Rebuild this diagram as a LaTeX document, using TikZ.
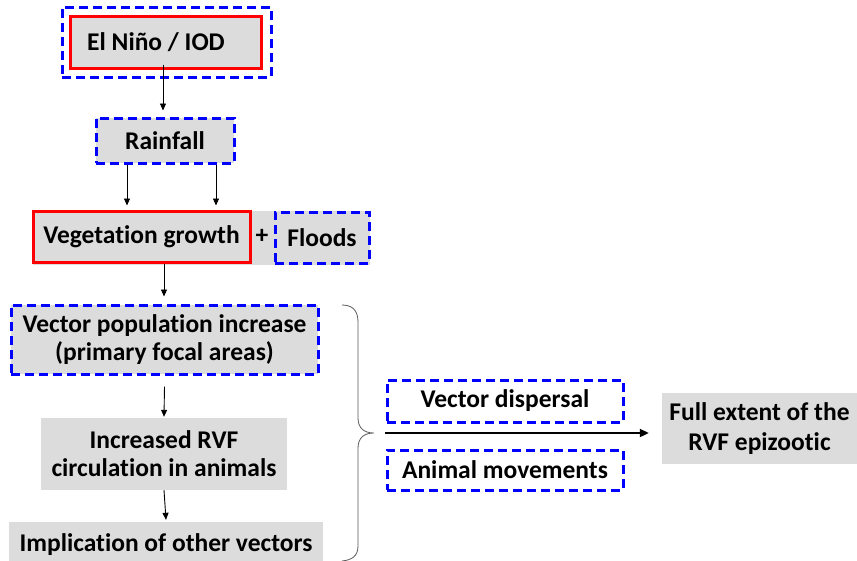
\documentclass[tikz,border=0pt]{standalone}
\usepackage{fontspec}
\setmainfont{Carlito}[Ligatures=NoCommon]
\usetikzlibrary{arrows.meta}
\definecolor{boxgray}{RGB}{220,220,220}
\definecolor{dblue}{RGB}{0,0,255}
\definecolor{dred}{RGB}{255,0,0}
\tikzset{
  base/.style={inner sep=0pt, align=center, font=\fontsize{25.5}{28}\selectfont\bfseries},
  graybox/.style={base, fill=boxgray},
  redbox/.style={graybox, draw=dred, line width=3pt},
  bluebox/.style={base, draw=dblue, line width=3pt, dash pattern=on 9pt off 5pt},
  arr/.style={-{Triangle[length=7pt,width=6pt]}, line width=0.9pt},
  bigarr/.style={-{Triangle[length=9pt,width=8pt]}, line width=2pt},
}
\begin{document}
\begin{tikzpicture}[x=1pt,y=-1pt]
\useasboundingbox (0,0) rectangle (857,560);
% El Nino
\node[bluebox, minimum width=209pt, minimum height=70pt] (ninoout) at (166.5,42) {};
\node[redbox, minimum width=191pt, minimum height=52pt] (nino) at (165.5,42) {\hspace*{-19pt}El Niño / IOD};
% Rainfall
\node[bluebox, fill=boxgray, minimum width=138pt, minimum height=45pt] (rain) at (165,140.5) {Rainfall};
% vegetation band
\node[graybox, minimum width=337pt, minimum height=54pt] (band) at (201.5,238) {};
\node[redbox, minimum width=217pt, minimum height=51pt] (veg) at (141.5,236.5) {Vegetation growth};
\node[base] (plus) at (262,236) {+};
\node[bluebox, minimum width=94pt, minimum height=51pt] (floods) at (322,237.5) {Floods};
% left column
\node[bluebox, fill=boxgray, minimum width=307pt, minimum height=69pt] (vpi) at (164.5,339.5) {Vector population increase\\(primary focal areas)};
\node[graybox, minimum width=246pt, minimum height=72pt] (rvf) at (164,454) {Increased RVF\\circulation in animals};
\node[graybox, minimum width=314pt, minimum height=46pt] (impl) at (166,545) {Implication of other vectors};
% right side
\node[bluebox, minimum width=236pt, minimum height=42pt] (disp) at (505,401) {Vector dispersal};
\node[bluebox, minimum width=236pt, minimum height=40pt] (anim) at (505,470) {Animal movements};
\node[graybox, minimum width=195pt, minimum height=71pt, font=\fontsize{25.5}{30}\selectfont\bfseries] (full) at (759.5,428.5) {Full extent of the\\RVF epizootic};
% arrows
\draw[arr] ([xshift=-2.5pt,yshift=5pt]nino.south) -- ([xshift=-2pt,yshift=6pt]rain.north);
\draw[arr] ([xshift=-38pt]rain.south) -- ([xshift=-38pt,yshift=4pt]rain.south |- veg.north);
\draw[arr] ([xshift=51pt]rain.south) -- ([xshift=51pt,yshift=4pt]rain.south |- veg.north);
\draw[arr] ([xshift=22.5pt]veg.south) -- ([xshift=22.5pt,yshift=7pt]veg.south |- vpi.north);
\draw[arr] ([yshift=-11pt]vpi.south) -- ([yshift=1pt]rvf.north);
\draw[arr] (rvf.south) -- ([yshift=2pt]impl.north);
% brace
\draw[line width=0.8pt, draw=black!65] (342,305) .. controls (352,305) and (358,310) .. (358,322)
  -- (358,418) .. controls (358,428) and (364,433) .. (374,433)
  coordinate (tip)
  .. controls (364,433) and (358,438) .. (358,448)
  -- (358,546) .. controls (358,556) and (352,560) .. (342,561);
\coordinate (astart) at (385,433);
\draw[bigarr, shorten >=13pt] (astart) -- (astart -| full.west);
\end{tikzpicture}
\end{document}
